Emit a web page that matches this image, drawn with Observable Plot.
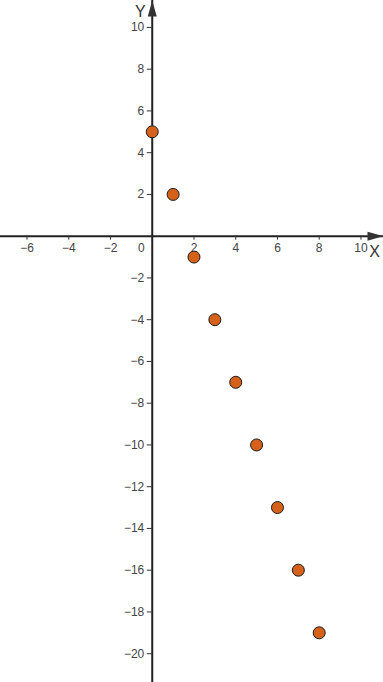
<!DOCTYPE html>
<html>
<head>
<meta charset="utf-8">
<script src="https://cdn.jsdelivr.net/npm/d3@7"></script>
<script src="https://cdn.jsdelivr.net/npm/@observablehq/plot@0.6"></script>
<style>
  html, body { margin: 0; padding: 0; background: #fff; }
  #chart svg { display: block; }
</style>
</head>
<body>
<div id="chart"></div>
<script>
// Data
const xValues = [0, 1, 2, 3, 4, 5, 6, 7, 8];
const yValues = [5, 2, -1, -4, -7, -10, -13, -16, -19];
const xTicks = [-6, -4, -2, 2, 4, 6, 8, 10];
const yTicks = [-20, -18, -16, -14, -12, -10, -8, -6, -4, -2, 2, 4, 6, 8, 10];
const xDomain = [-7.27, 11.08];
const yDomain = [-21.38, 11.29];

const points = xValues.map((x, i) => ({x, y: yValues[i]}));
const fmt = v => (v < 0 ? "\u2212" + Math.abs(v) : String(v));

const pxPerUnitY = 682 / (yDomain[1] - yDomain[0]);
const pxPerUnitX = 383 / (xDomain[1] - xDomain[0]);
const tickLenY = 4 / pxPerUnitY;
const tickLenX = 5 / pxPerUnitX;

const arrowUp = {draw(ctx) { ctx.moveTo(0, 0); ctx.lineTo(4.5, 16); ctx.lineTo(-4.5, 16); ctx.closePath(); }};
const arrowRight = {draw(ctx) { ctx.moveTo(0, 0); ctx.lineTo(-16, 4.5); ctx.lineTo(-16, -4.5); ctx.closePath(); }};

const chart = Plot.plot({
  width: 383,
  height: 682,
  margin: 0,
  style: {fontFamily: "'Liberation Sans', Arial, sans-serif", fontSize: "12px", background: "#fff"},
  x: {domain: xDomain, axis: null},
  y: {domain: yDomain, axis: null},
  marks: [
    Plot.ruleY([0], {stroke: "#222", strokeWidth: 2}),
    Plot.ruleX([0], {stroke: "#222", strokeWidth: 2}),
    // x ticks
    Plot.ruleX(xTicks, {x: d => d, y1: 0, y2: -tickLenY, stroke: "#333", strokeWidth: 1}),
    Plot.text(xTicks, {x: d => d, y: 0, text: d => fmt(d), dy: 12, fill: "#444"}),
    Plot.text([0], {x: d => d, y: 0, text: d => fmt(d), dy: 12, dx: -11, fill: "#444"}),
    // y ticks
    Plot.ruleY(yTicks, {y: d => d, x1: 0, x2: -tickLenX, stroke: "#333", strokeWidth: 1}),
    Plot.text(yTicks, {y: d => d, x: 0, text: d => fmt(d), dx: -8, textAnchor: "end", fill: "#444"}),
    // arrows
    Plot.dot([0], {x: 0, y: yDomain[1], symbol: arrowUp, fill: "#333", stroke: "none"}),
    Plot.dot([0], {x: xDomain[1], y: 0, symbol: arrowRight, fill: "#333", stroke: "none"}),
    // axis labels
    Plot.text(["Y"], {x: 0, y: yDomain[1], text: d => d, dx: -12, dy: 11, fontSize: 16, fill: "#333"}),
    Plot.text(["X"], {x: xDomain[1], y: 0, text: d => d, dx: -9, dy: 16, fontSize: 16, fill: "#333"}),
    // points
    Plot.dot(points, {x: "x", y: "y", r: 6, fill: "#D6611A", stroke: "#1a1a1a", strokeWidth: 1})
  ]
});
document.getElementById("chart").appendChild(chart);
</script>
</body>
</html>
